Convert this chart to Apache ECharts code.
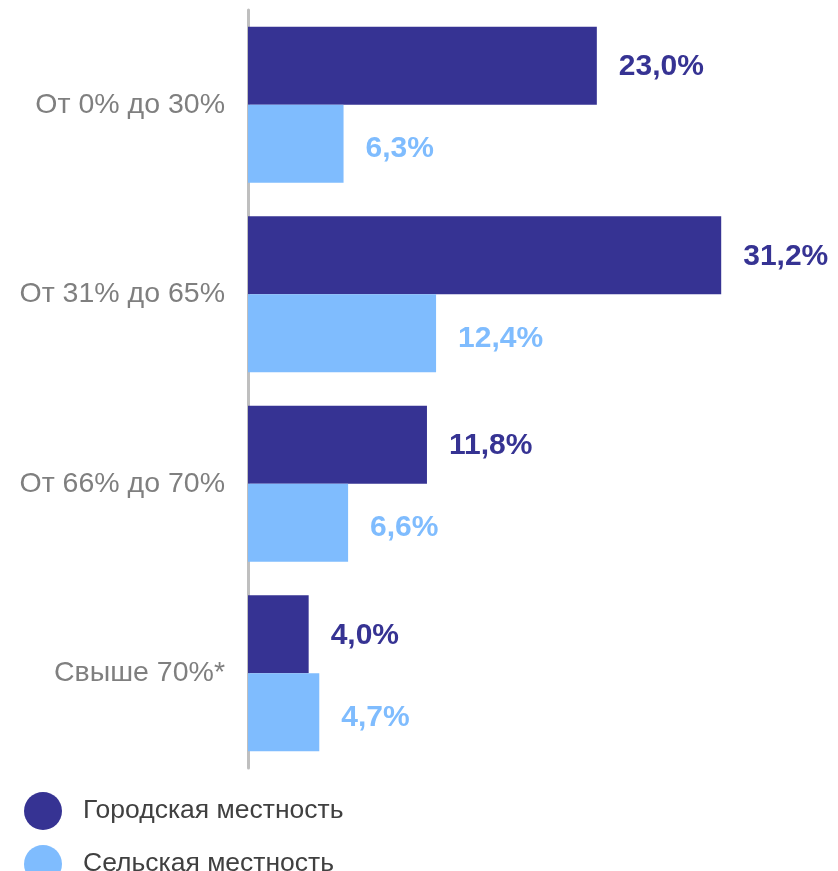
<!DOCTYPE html>
<html>
<head>
<meta charset="utf-8">
<script src="https://cdn.jsdelivr.net/npm/echarts@6/dist/echarts.min.js"></script>
<style>
  html, body { margin: 0; padding: 0; background: #ffffff; }
  #chart { width: 838px; height: 871px; }
</style>
</head>
<body>
<div id="chart"></div>
<script>
// categories (top to bottom)
const categories = ['От 0% до 30%', 'От 31% до 65%', 'От 66% до 70%', 'Свыше 70%*'];
const seriesNames = ['Городская местность', 'Сельская местность'];
const urbanValues = [23.0, 31.2, 11.8, 4.0];
const ruralValues = [6.3, 12.4, 6.6, 4.7];

const darkBlue = '#363393';
const lightBlue = '#7fbcfe';

const fmt = p => p.value.toFixed(1).replace('.', ',') + '%';

const legendBase = {
  orient: 'vertical',
  left: 19,
  icon: 'circle',
  itemWidth: 38,
  itemHeight: 38,
  textStyle: { color: '#404040', fontSize: 26.5, padding: [0, 0, 0, 16] }
};

const chart = echarts.init(document.getElementById('chart'));
chart.setOption({
  animation: false,
  backgroundColor: '#ffffff',
  textStyle: { fontFamily: 'Liberation Sans, Arial, sans-serif' },
  grid: { left: 248, right: 44, top: 10, bottom: 103, containLabel: false },
  xAxis: {
    type: 'value',
    min: 0,
    max: 36,
    show: false
  },
  yAxis: {
    type: 'category',
    inverse: true,
    data: categories,
    axisLine: { show: true, lineStyle: { color: '#bfbfbf', width: 3 } },
    axisTick: { show: false },
    axisLabel: { color: '#7f7f7f', fontSize: 28.5, margin: 23 }
  },
  legend: [
    Object.assign({}, legendBase, { top: 787, data: [seriesNames[0]] }),
    Object.assign({}, legendBase, { top: 840, data: [seriesNames[1]] })
  ],
  series: [
    {
      name: seriesNames[0],
      type: 'bar',
      data: urbanValues,
      barWidth: 78,
      barGap: '0%',
      itemStyle: { color: darkBlue },
      label: {
        show: true,
        position: 'right',
        distance: 22,
        formatter: fmt,
        color: darkBlue,
        fontSize: 30,
        fontWeight: 'bold',
        offset: [0, 1]
      }
    },
    {
      name: seriesNames[1],
      type: 'bar',
      data: ruralValues,
      barWidth: 78,
      itemStyle: { color: lightBlue },
      label: {
        show: true,
        position: 'right',
        distance: 22,
        formatter: fmt,
        color: lightBlue,
        fontSize: 30,
        fontWeight: 'bold',
        offset: [0, 5]
      }
    }
  ]
});
</script>
</body>
</html>
